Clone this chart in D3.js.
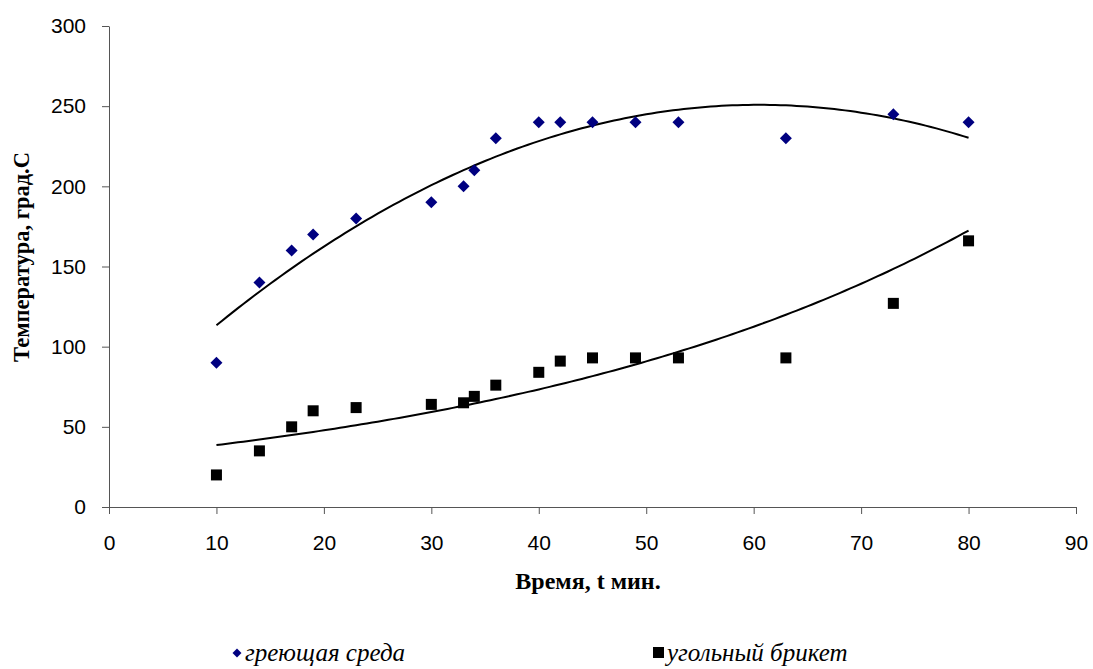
<!DOCTYPE html>
<html>
<head>
<meta charset="utf-8">
<script src="https://cdn.jsdelivr.net/npm/d3@7"></script>
<style>
  body { margin: 0; background: #fff; }
  .tick text { font-family: "Liberation Sans", Arial, sans-serif; font-size: 21px; fill: #000; }
  .axis-label { font-family: "Liberation Serif", "Times New Roman", serif; font-weight: bold; }
  .legend-text { font-family: "Liberation Serif", "Times New Roman", serif; font-style: italic; font-size: 25px; }
</style>
</head>
<body>
<div id="chart"></div>
<script>
// time, min
const timeValues = [10, 14, 17, 19, 23, 30, 33, 34, 36, 40, 42, 45, 49, 53, 63, 73, 80];
// heating medium temperature
const heatingValues = [90, 140, 160, 170, 180, 190, 200, 210, 230, 240, 240, 240, 240, 240, 230, 245, 240];
// coal briquette temperature
const briquetteValues = [20, 35, 50, 60, 62, 64, 65, 69, 76, 84, 91, 93, 93, 93, 93, 127, 166];
const xTicks = [0, 10, 20, 30, 40, 50, 60, 70, 80, 90];
const yTicks = [0, 50, 100, 150, 200, 250, 300];
const seriesNames = ["греющая среда", "угольный брикет"];

const width = 1093;
const height = 669;
const marginLeft = 109;
const marginRight = 17;
const marginTop = 26;
const marginBottom = 162;

// least squares quadratic fit (polynomial trend line)
const polyFit2 = (xs, ys) => {
    const n = xs.length;
    let s = [0, 0, 0, 0, 0], t = [0, 0, 0];
    for (let i = 0; i < n; i++) {
        for (let k = 0; k < 5; k++) s[k] += Math.pow(xs[i], k);
        for (let k = 0; k < 3; k++) t[k] += ys[i] * Math.pow(xs[i], k);
    }
    const A = [[s[0], s[1], s[2], t[0]], [s[1], s[2], s[3], t[1]], [s[2], s[3], s[4], t[2]]];
    for (let c = 0; c < 3; c++) {
        for (let r = c + 1; r < 3; r++) {
            const f = A[r][c] / A[c][c];
            for (let k = c; k < 4; k++) A[r][k] -= f * A[c][k];
        }
    }
    const b = [0, 0, 0];
    for (let r = 2; r >= 0; r--) {
        let v = A[r][3];
        for (let k = r + 1; k < 3; k++) v -= A[r][k] * b[k];
        b[r] = v / A[r][r];
    }
    return x => b[0] + b[1] * x + b[2] * x * x;
};

// exponential trend line (fit on ln y)
const expFit = (xs, ys) => {
    const ls = ys.map(Math.log);
    const mx = d3.mean(xs), ml = d3.mean(ls);
    let sxy = 0, sxx = 0;
    xs.forEach((x, i) => { sxy += (x - mx) * (ls[i] - ml); sxx += (x - mx) * (x - mx); });
    const k = sxy / sxx;
    const a = ml - k * mx;
    return x => Math.exp(a + k * x);
};

const xScale = d3.scaleLinear().domain([0, 90]).range([marginLeft, width - marginRight]);
const yScale = d3.scaleLinear().domain([0, 300]).range([height - marginBottom, marginTop]);

const svg = d3.select("#chart")
    .append("svg")
    .attr("width", width)
    .attr("height", height);

// Axes
const xAxis = d3.axisBottom(xScale).tickValues(xTicks).tickSize(7).tickSizeOuter(0).tickPadding(21);
svg.append("g")
    .attr("transform", `translate(0, ${height - marginBottom})`)
    .call(xAxis)
    .call(g => g.selectAll("path, line").attr("stroke", "#555"));

const yAxis = d3.axisLeft(yScale).tickValues(yTicks).tickSize(7).tickSizeOuter(0).tickPadding(16);
svg.append("g")
    .attr("transform", `translate(${marginLeft}, 0)`)
    .call(yAxis)
    .call(g => g.selectAll("path, line").attr("stroke", "#555"));

// Trend lines
const line = d3.line().x(d => xScale(d[0])).y(d => yScale(d[1]));
const fits = [polyFit2(timeValues, heatingValues), expFit(timeValues, briquetteValues)];
fits.forEach(f => {
    const pts = d3.range(10, 80.01, 0.5).map(x => [x, f(x)]);
    svg.append("path")
        .datum(pts)
        .attr("d", line)
        .attr("fill", "none")
        .attr("stroke", "#000")
        .attr("stroke-width", 2);
});

// Points
const diamond = d3.symbol().type(d3.symbolSquare).size(72);
svg.selectAll(".heat")
    .data(timeValues.map((t, i) => [t, heatingValues[i]]))
    .enter()
    .append("path")
    .attr("class", "heat")
    .attr("d", diamond)
    .attr("transform", d => `translate(${xScale(d[0])}, ${yScale(d[1])}) rotate(45)`)
    .attr("fill", "#000080");

svg.selectAll(".coal")
    .data(timeValues.map((t, i) => [t, briquetteValues[i]]))
    .enter()
    .append("rect")
    .attr("class", "coal")
    .attr("x", d => xScale(d[0]) - 5.5)
    .attr("y", d => yScale(d[1]) - 5.5)
    .attr("width", 11)
    .attr("height", 11)
    .attr("fill", "#000");

// Axis labels
svg.append("text")
    .attr("class", "axis-label")
    .attr("x", 588)
    .attr("y", 589)
    .attr("text-anchor", "middle")
    .style("font-size", "24px")
    .text("Время, t мин.");

svg.append("text")
    .attr("class", "axis-label")
    .attr("transform", "translate(29, 257) rotate(-90)")
    .attr("text-anchor", "middle")
    .style("font-size", "22.5px")
    .text("Температура, град.С");

// Legend
const legend = svg.append("g");
legend.append("path")
    .attr("d", d3.symbol().type(d3.symbolSquare).size(40))
    .attr("transform", "translate(237, 653) rotate(45)")
    .attr("fill", "#000080");
legend.append("text")
    .attr("class", "legend-text")
    .attr("x", 245)
    .attr("y", 661)
    .text(seriesNames[0]);
legend.append("rect")
    .attr("x", 653)
    .attr("y", 647)
    .attr("width", 11)
    .attr("height", 11)
    .attr("fill", "#000");
legend.append("text")
    .attr("class", "legend-text")
    .attr("x", 667)
    .attr("y", 661)
    .text(seriesNames[1]);
</script>
</body>
</html>
